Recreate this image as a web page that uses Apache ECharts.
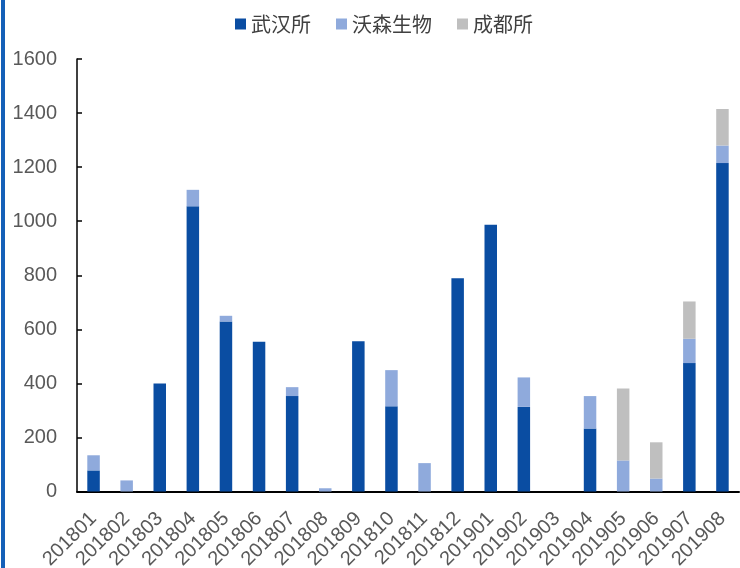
<!DOCTYPE html>
<html><head><meta charset="utf-8">
<script src="https://cdn.jsdelivr.net/npm/echarts@6/dist/echarts.min.js"></script>
<style>html,body{margin:0;padding:0;background:#fff}#c{width:740px;height:568px}</style>
</head><body><div id="c"></div>
<script>
const categories = ['201801','201802','201803','201804','201805','201806','201807','201808','201809','201810','201811','201812','201901','201902','201903','201904','201905','201906','201907','201908'];
const wuhan  = [78, 0, 400, 1055, 629, 554, 353, 0, 556, 315, 0, 789, 987, 313, 0, 233, 0, 0, 475, 1215];
const wosen  = [56, 41, 0, 61, 21, 0, 33, 12, 0, 134, 105, 0, 0, 109, 0, 120, 115, 48, 90, 65];
const chengdu= [0, 0, 0, 0, 0, 0, 0, 0, 0, 0, 0, 0, 0, 0, 0, 0, 266, 134, 138, 135];
const yTicks = [0, 200, 400, 600, 800, 1000, 1200, 1400, 1600];

const chart = echarts.init(document.getElementById('c'));
const labelFont = 'Liberation Sans, Arial, sans-serif';
chart.setOption({
  animation: false,
  graphic: [{type:'rect', left: 1, top: 0, shape:{width:4, height:568}, style:{fill:'#1560b8'}}],
  legend: {
    top: 9, left: 230,
    itemWidth: 11, itemHeight: 11, itemGap: 25,
    icon: 'rect',
    textStyle: {fontFamily: 'Noto Sans CJK SC', fontSize: 20, color: '#404040'},
    data: ['武汉所','沃森生物','成都所']
  },
  grid: {left: 77, right: 1, top: 59, bottom: 76.5, containLabel: false, outerBoundsMode: 'none'},
  xAxis: {
    type: 'category', data: categories,
    axisLine: {lineStyle: {color: '#000', width: 2}},
    axisTick: {inside: true, length: 5, lineStyle:{color:'#000', width: 1.5}},
    axisLabel: {interval: 0, rotate: 45, margin: 24, fontSize: 20, color: '#595959', fontFamily: labelFont}
  },
  yAxis: {
    type: 'value', min: yTicks[0], max: yTicks[yTicks.length-1], interval: 200,
    splitLine: {show: false},
    axisLine: {show: true, lineStyle: {color: '#000', width: 1.5}},
    axisTick: {show: true, inside: true, length: 5, lineStyle:{color:'#000', width: 1.5}},
    axisLabel: {margin: 20, fontSize: 20, color: '#595959', fontFamily: labelFont, formatter: v => String(v)}
  },
  series: [
    {name: '武汉所', type: 'bar', stack: 't', data: wuhan, barWidth: 12.5, itemStyle: {color: '#0a4da2'}},
    {name: '沃森生物', type: 'bar', stack: 't', data: wosen, barWidth: 12.5, itemStyle: {color: '#8faadc'}},
    {name: '成都所', type: 'bar', stack: 't', data: chengdu, barWidth: 12.5, itemStyle: {color: '#bfbfbf'}}
  ]
});
</script></body></html>
